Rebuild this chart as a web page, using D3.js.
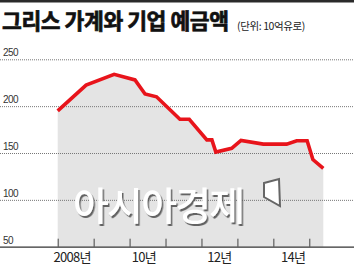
<!DOCTYPE html>
<html><head><meta charset="utf-8">
<script src="https://cdn.jsdelivr.net/npm/d3@7"></script>
<style>
html,body{margin:0;padding:0;background:#fff;}
svg{display:block;}
</style></head>
<body><div id="chart"></div>
<script>
const title = "그리스 가계와 기업 예금액";
const unit = "(단위: 10억유로)";
const dates = [2008.0, 2008.79, 2009.57, 2010.15, 2010.43, 2010.75, 2011.40, 2011.66, 2012.15, 2012.29, 2012.40, 2012.84, 2013.10, 2013.72, 2014.37, 2014.65, 2014.94, 2015.10, 2015.39];
const deposits = [195, 222.5, 234, 228, 213, 210, 186, 186, 164, 164, 151, 155, 163.5, 159.5, 159.5, 163, 163, 143, 133.5];
const yTicks = [50, 100, 150, 200, 250];
const xTicks = [2008, 2009, 2010, 2011, 2012, 2013, 2014, 2015];
const xLabelYears = [2008.4, 2010.4, 2012.5, 2014.55];
const xLabels = ["2008년", "10년", "12년", "14년"];
const watermark = "아시아경제";

const W = 354, H = 266;
const svg = d3.select("#chart").append("svg").attr("width", W).attr("height", H);

const defs = svg.append("defs");
const f = defs.append("filter").attr("id", "shadow").attr("x", "-10%").attr("y", "-20%").attr("width", "130%").attr("height", "150%");
f.append("feDropShadow").attr("dx", 1.5).attr("dy", 2).attr("stdDeviation", 0.6).attr("flood-color", "#555").attr("flood-opacity", 0.9);

const x = d3.scaleLinear().domain([2008, 2015]).range([57.7, 309.3]);
const y = d3.scaleLinear().domain([50, 250]).range([246.7, 59.3]);

// top border
svg.append("rect").attr("x", 0).attr("y", 0).attr("width", W).attr("height", 2.5).attr("fill", "#2a2a2a");

// title
svg.append("text").attr("x", 2).attr("y", 29)
  .attr("font-family", "'Noto Sans CJK KR'").attr("font-weight", 700)
  .attr("font-size", 21.5).attr("letter-spacing", -0.4)
  .attr("fill", "#111").attr("stroke", "#111").attr("stroke-width", 0.7).text(title);
svg.append("text").attr("x", 237).attr("y", 30)
  .attr("font-family", "'Noto Sans CJK KR'").attr("font-size", 10.5)
  .attr("letter-spacing", -0.4).attr("fill", "#222").text(unit);

const pts = dates.map((d, i) => [d, deposits[i]]);

// area
svg.append("path").datum(pts)
  .attr("fill", "#e4e4e4")
  .attr("d", d3.area().x(d => x(d[0])).y0(y(50)).y1(d => y(d[1])));

// gridlines
svg.append("g").selectAll("line").data(yTicks.filter(v => v > 50)).join("line")
  .attr("x1", 0).attr("x2", W).attr("y1", d => y(d) + 0.5).attr("y2", d => y(d) + 0.5)
  .attr("stroke", "#777").attr("stroke-width", 1).attr("stroke-dasharray", "1,1");

// y labels
svg.append("g").selectAll("text").data(yTicks).join("text")
  .attr("x", 3).attr("y", d => y(d) - 3)
  .attr("font-family", "'Liberation Sans', Arial").attr("font-size", 10)
  .attr("letter-spacing", -0.5).attr("fill", "#333").text(d => d);

// watermark
svg.append("text").attr("x", 73).attr("y", 220).text(watermark)
  .attr("font-family", "'Noto Sans CJK KR'").attr("font-size", 39).attr("font-weight", 500)
  .attr("letter-spacing", -1.8)
  .attr("fill", "#fff").attr("filter", "url(#shadow)");
svg.append("path").attr("d", "M264,183 L279,179 L280,206 L264,197 Z")
  .attr("fill", "#fff").attr("stroke", "#666").attr("stroke-width", 2);

// line
svg.append("path").datum(pts)
  .attr("fill", "none").attr("stroke", "#e8141b").attr("stroke-width", 3.6)
  .attr("stroke-linejoin", "miter")
  .attr("d", d3.line().x(d => x(d[0])).y(d => y(d[1])));

// x axis
const xAxis = d3.axisTop(x).tickValues(xTicks).tickSize(8).tickFormat("");
const ax = svg.append("g").attr("transform", `translate(0,${y(50)})`).call(xAxis);
ax.select(".domain").remove();
ax.selectAll(".tick line").attr("stroke", "#444");
svg.append("line").attr("x1", 0).attr("x2", W).attr("y1", y(50) + 0.5).attr("y2", y(50) + 0.5)
  .attr("stroke", "#333").attr("stroke-width", 1.2);

svg.append("g").selectAll("text").data(xLabels).join("text")
  .attr("x", (d, i) => x(xLabelYears[i])).attr("y", 262)
  .attr("text-anchor", "middle")
  .attr("font-family", "'Noto Sans CJK KR'").attr("font-size", 13)
  .attr("letter-spacing", -0.7).attr("fill", "#222").text(d => d);
</script></body></html>
